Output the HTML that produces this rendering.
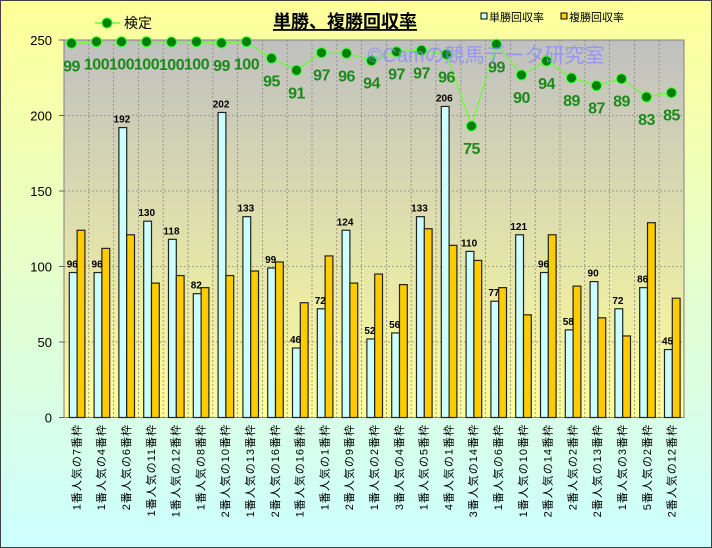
<!DOCTYPE html>
<html><head><meta charset="utf-8"><style>
html,body{margin:0;padding:0;}
body{width:712px;height:548px;overflow:hidden;}
svg{display:block;font-family:"Liberation Sans","Noto Sans CJK JP",sans-serif;}
</style></head><body>
<svg id="c" width="712" height="548" xmlns="http://www.w3.org/2000/svg">
<defs>
<linearGradient id="bg" x1="0" y1="0" x2="0" y2="1"><stop offset="0" stop-color="#ffff99"/><stop offset="1" stop-color="#ccffff"/></linearGradient>
<linearGradient id="pa" x1="0" y1="0" x2="0" y2="1"><stop offset="0" stop-color="#c0c0c0"/><stop offset="1" stop-color="#ffff99"/></linearGradient>
</defs>
<rect x="0.5" y="0.5" width="711" height="547" fill="url(#bg)" stroke="#404040" stroke-width="1"/>
<rect x="64" y="40" width="620" height="377.5" fill="url(#pa)" stroke="#808080"/>
<g id="g"></g>
<text x="345" y="28" font-size="18" font-weight="bold" text-anchor="middle" fill="#000" text-decoration="underline">単勝、複勝回収率</text>
<line x1="95" y1="23" x2="120" y2="23" stroke="#66ff33" stroke-width="1.5"/>
<circle cx="107" cy="23" r="5" fill="#008000" stroke="#33ff33" stroke-width="1"/>
<text x="124" y="28" font-size="14" fill="#000">検定</text>
<rect x="481" y="13" width="6" height="6" fill="#ccffff" stroke="#000"/>
<text x="489" y="21" font-size="11" fill="#000">単勝回収率</text>
<rect x="561" y="13" width="6" height="6" fill="#ffcc00" stroke="#000"/>
<text x="569" y="21" font-size="11" fill="#000">複勝回収率</text>
<text x="486" y="62" font-size="20" text-anchor="middle" fill="#8888ff" fill-opacity="0.75">©Camの競馬データ研究室</text>
</svg>
<script>
var tan=[96,96,192,130,118,82,202,133,99,46,72,124,52,56,133,206,110,77,121,96,58,90,72,86,45];
var fuk=[124,112,121,89,94,86,94,97,103,76,107,89,95,88,125,114,104,86,68,121,87,66,54,129,79];
var kt=[99,100,100,100,100,100,99,100,95,91,97,96,94,97,97,96,75,99,90,94,89,87,89,83,85];
var ky=[43.3,41.7,41.7,41.7,42,41.7,43,41.7,58.3,70.3,52.7,53.3,60.7,51.7,50.3,54.3,126,44.3,75,61,78,85.7,78.7,97,92.7];
var lab=["1番人気の7番枠","1番人気の4番枠","2番人気の6番枠","1番人気の11番枠","1番人気の12番枠","1番人気の8番枠","2番人気の10番枠","1番人気の13番枠","2番人気の16番枠","1番人気の16番枠","1番人気の1番枠","2番人気の9番枠","1番人気の2番枠","3番人気の4番枠","1番人気の5番枠","4番人気の1番枠","3番人気の14番枠","1番人気の6番枠","1番人気の10番枠","2番人気の14番枠","2番人気の2番枠","2番人気の13番枠","1番人気の3番枠","5番人気の2番枠","2番人気の12番枠"];
var s="",X0=64,W=24.8,Y0=417.5,K=1.51;
for(var v=0;v<=250;v+=50){var y=Y0-v*K;
 if(v>0&&v<250)s+='<line x1="64" x2="684" y1="'+y+'" y2="'+y+'" stroke="#888" stroke-dasharray="2,2" stroke-width="0.8"/>';
 s+='<line x1="59" x2="64" y1="'+y+'" y2="'+y+'" stroke="#666"/>';
 s+='<text x="52" y="'+(y+5)+'" font-size="13" text-anchor="end" fill="#000">'+v+'</text>';}
for(var i=1;i<25;i++){var x=X0+i*W;s+='<line x1="'+x+'" x2="'+x+'" y1="40" y2="417.5" stroke="#888" stroke-dasharray="2,2" stroke-width="0.8"/>';}
for(var i=0;i<25;i++){var x=X0+i*W+5.3;
 var h=tan[i]*K;s+='<rect x="'+x+'" y="'+(Y0-h)+'" width="7.8" height="'+h+'" fill="#ccffff" stroke="#222" stroke-width="1.2"/>';
 var h2=fuk[i]*K;s+='<rect x="'+(x+7.8)+'" y="'+(Y0-h2)+'" width="7.8" height="'+h2+'" fill="#ffcc00" stroke="#222" stroke-width="1.2"/>';
 s+='<text x="'+(x+3)+'" y="'+(Y0-h-5)+'" font-size="10" font-weight="bold" text-anchor="middle" fill="#000">'+tan[i]+'</text>';
 var cx=X0+i*W+W/2;
 s+='<text transform="translate('+(cx+4)+',424) rotate(-90)" font-size="11" letter-spacing="1" text-anchor="end" fill="#000">'+lab[i]+'</text>';}
var pts=[];for(var i=0;i<25;i++)pts.push((71.5+25*i)+','+ky[i]);
s+='<polyline points="'+pts.join(' ')+'" fill="none" stroke="#66ff33" stroke-width="1.2"/>';
for(var i=0;i<25;i++){var x=71.5+25*i;
 s+='<circle cx="'+x+'" cy="'+ky[i]+'" r="5" fill="#008000" stroke="#33ff33" stroke-width="1"/>';
 s+='<text x="'+x+'" y="'+(ky[i]+28)+'" font-size="16" font-weight="bold" text-anchor="middle" fill="#1a8a1a" letter-spacing="-0.5">'+kt[i]+'</text>';}
document.getElementById("g").innerHTML=s;
</script>
</body></html>
